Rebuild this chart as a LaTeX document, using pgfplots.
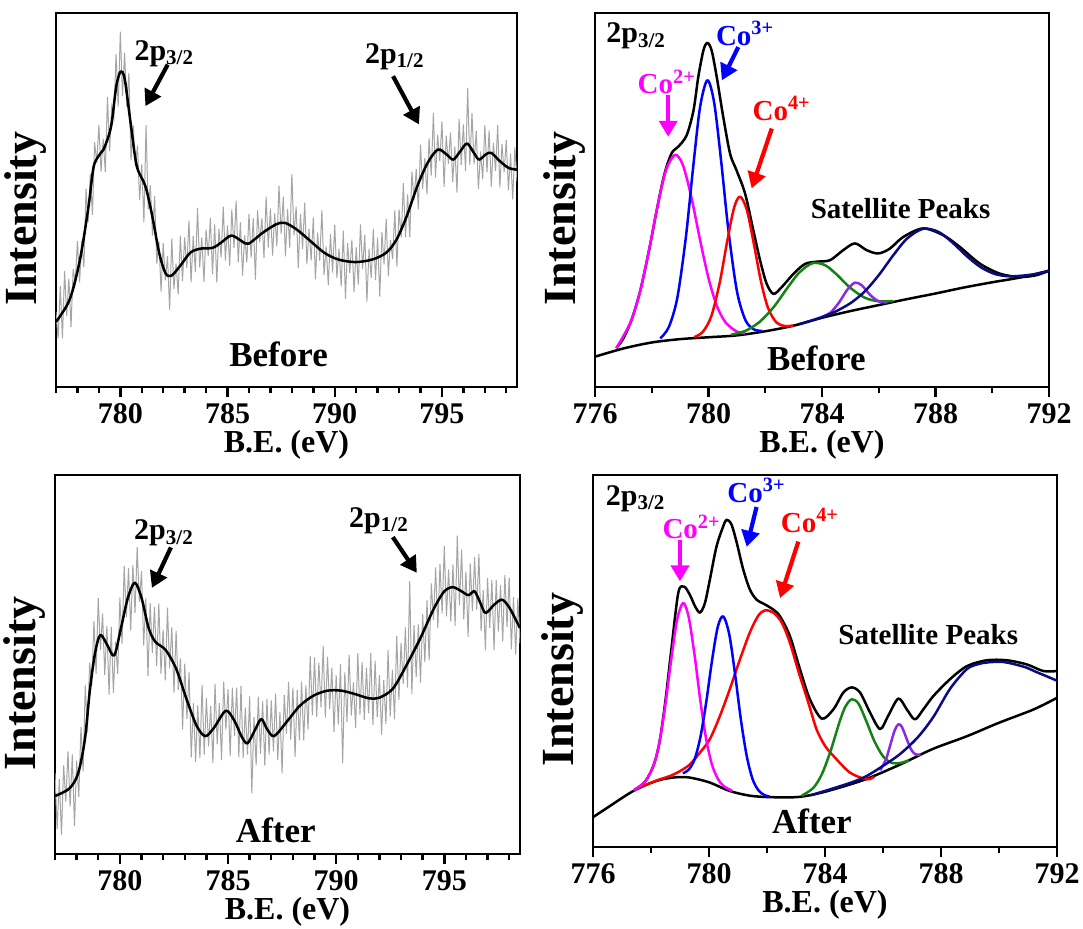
\documentclass[border=0pt]{standalone}
\usepackage{fontspec}
\setmainfont{Liberation Serif}
\usepackage{pgfplots}
\pgfplotsset{compat=1.18}
\usetikzlibrary{arrows.meta}
\definecolor{cmag}{RGB}{255,0,255}
\definecolor{cblue}{RGB}{0,0,255}
\definecolor{cred}{RGB}{255,0,0}
\definecolor{cgreen}{RGB}{20,130,20}
\definecolor{cviol}{RGB}{140,40,230}
\definecolor{cnavy}{RGB}{10,10,130}
\definecolor{cnoise}{RGB}{165,165,165}
\tikzset{
  lab/.style={font=\bfseries\fontsize{15}{16}\selectfont},
  big/.style={font=\bfseries\fontsize{17.5}{19}\selectfont},
  co/.style={font=\bfseries\fontsize{14.5}{16}\selectfont},
  arr/.style={line width=2.1pt, -{Triangle[width=9pt,length=8pt]}},
}
\pgfplotsset{
  xpsbase/.style={
    scale only axis,
    ymin=0, ymax=100,
    ytick=\empty,
    axis line style={line width=1.3pt},
    every tick/.style={black, line width=1.2pt},
    tick align=outside,
    xtick pos=bottom,
    major tick length=5pt,
    minor tick length=3pt,
    /pgf/number format/assume math mode=true,
    /pgf/number format/set thousands separator={},
    xticklabel style={font=\bfseries\fontsize{15}{16}\selectfont, inner sep=0pt, anchor=north},
    xticklabel shift=3pt,
    xlabel={B.E. (eV)},
    ylabel={Intensity},
    every axis x label/.style={at={(axis description cs:0.5,0)}, anchor=base, inner sep=0pt, yshift=-33pt, font=\bfseries\fontsize{16}{18}\selectfont},
    every axis y label/.style={at={([xshift=-15pt]axis description cs:0,0.45)}, anchor=center, rotate=90, font=\bfseries\fontsize{23}{25}\selectfont},
    clip mode=individual,
  },
  curve/.style={line width=1.25pt, smooth, line join=round},
  noise/.style={cnoise, line width=0.5pt},
}
\begin{document}
\begin{tikzpicture}
\useasboundingbox (0,0) rectangle (541.5pt,464pt);
% ---------------- top left ----------------
\begin{axis}[xpsbase, at={(28pt,270.5pt)}, anchor=south west, width=230.5pt, height=187pt,
  xmin=777, xmax=798.5, xtick={780,785,790,795}, minor xtick={777,...,798}]
\addplot[noise] coordinates {(777.0,20)(777.1,13)(777.2,27)(777.3,13)(777.4,31)(777.5,19)(777.6,29)(777.7,16)(777.8,31.5)(777.9,28)
(778.0,39)(778.1,28)(778.2,39)(778.3,32)(778.4,53)(778.5,44)(778.6,57)(778.7,46)(778.8,65.5)(778.9,60)
(779.0,70)(779.1,57.6)(779.2,66.4)(779.3,57.5)(779.4,77.5)(779.5,63)(779.6,75)(779.7,72)(779.8,89)(779.9,75)
(780.0,95)(780.1,77.8)(780.2,89.3)(780.3,75)(780.4,84)(780.5,60.7)(780.6,70)(780.7,59)(780.8,64.5)(780.9,50)
(781.0,59.5)(781.1,44)(781.2,70)(781.3,47.5)(781.4,54)(781.5,40.5)(781.6,51)(781.7,33)(781.8,39)(781.9,25.5)
(782.0,38.5)(782.1,28.5)(782.2,35)(782.3,20.7)(782.4,39.7)(782.5,26.2)(782.6,33)(782.7,24.8)(782.8,40.5)(782.9,28.3)
(783.0,40)(783.1,31.8)(783.2,44.5)(783.3,28)(783.4,40.4)(783.5,30.7)(783.6,47.9)(783.7,32)(783.8,40)(783.9,28.1)
(784.0,42.1)(784.1,35.1)(784.2,45.2)(784.3,30.2)(784.4,43.5)(784.5,27.9)(784.6,42.3)(784.7,34.6)(784.8,48.2)(784.9,33.8)
(785.0,43.2)(785.1,32.4)(785.2,47.5)(785.3,37.2)(785.4,49.8)(785.5,33.4)(785.6,44.1)(785.7,29.8)(785.8,40.5)(785.9,33.3)
(786.0,46.3)(786.1,34.6)(786.2,45.1)(786.3,28.7)(786.4,47.3)(786.5,38.7)(786.6,45.1)(786.7,34.5)(786.8,50.9)(786.9,37.3)
(787.0,47.7)(787.1,35.1)(787.2,46.4)(787.3,37.6)(787.4,53.8)(787.5,40.9)(787.6,50.9)(787.7,34.9)(787.8,47.6)(787.9,37.3)
(788.0,57)(788.1,40.6)(788.2,48.2)(788.3,31.8)(788.4,46.3)(788.5,36.8)(788.6,49.3)(788.7,32.8)(788.8,42.3)(788.9,33.8)
(789.0,45.3)(789.1,28.8)(789.2,41.3)(789.3,33.8)(789.4,47.3)(789.5,29.9)(789.6,37.6)(789.7,27.2)(789.8,40.9)(789.9,30.6)
(790.0,43.4)(790.1,29.2)(790.2,37)(790.3,26.9)(790.4,41.8)(790.5,23.6)(790.6,38.5)(790.7,30.5)(790.8,39.4)(790.9,25.4)
(791.0,37.4)(791.1,27.4)(791.2,43.5)(791.3,31.6)(791.4,40.7)(791.5,22.8)(791.6,37)(791.7,29.1)(791.8,42.3)(791.9,28.6)
(792.0,39.9)(792.1,24.2)(792.2,41.5)(792.3,32.8)(792.4,45)(792.5,29.6)(792.6,39.3)(792.7,34.2)(792.8,47.2)(792.9,32.2)
(793.0,47.5)(793.1,40)(793.2,54.5)(793.3,40)(793.4,51.5)(793.5,40)(793.6,57.6)(793.7,50)(793.8,58.3)(793.9,47.5)
(794.0,64.8)(794.1,53)(794.2,61.2)(794.3,51.5)(794.4,66.5)(794.5,56.5)(794.6,73.3)(794.7,56)(794.8,67.5)(794.9,60.4)
(795.0,71)(795.1,53.5)(795.2,67.2)(795.3,59.7)(795.4,68.1)(795.5,54.8)(795.6,64.3)(795.7,52)(795.8,71.7)(795.9,59.4)
(796.0,70.2)(796.1,57.8)(796.2,80)(796.3,59.3)(796.4,73.2)(796.5,59.5)(796.6,68.5)(796.7,52.9)(796.8,63)(796.9,55.5)
(797.0,70)(797.1,57.4)(797.2,68.6)(797.3,53.6)(797.4,65.3)(797.5,57.7)(797.6,70)(797.7,53.4)(797.8,64.9)(797.9,57.4)
(798.0,66)(798.1,52.6)(798.2,62.4)(798.3,50.2)(798.4,64.1)(798.5,55)};
\addplot[curve, black] coordinates {(777.0,17.4)(777.64,23.4)(778.12,34.1)(778.52,48.4)(778.76,59.0)(779.09,62.6)(779.25,63.9)(779.57,69.7)(779.81,80.4)(780.02,84.4)(780.21,82.2)(780.5,69.7)(780.77,59.0)(781.17,53.7)(781.49,45.7)(781.81,35.9)(782.1,30.5)(782.37,29.7)(782.78,32.3)(783.26,35.9)(783.74,37.0)(784.3,37.2)(784.7,38.6)(785.18,40.5)(785.66,39.0)(785.98,38.3)(786.63,41.2)(787.27,43.5)(787.67,43.9)(788.23,42.1)(788.87,39.0)(789.51,35.9)(790.16,34.1)(790.96,33.4)(791.76,34.1)(792.4,35.9)(792.88,39.4)(793.36,45.7)(793.85,53.7)(794.33,59.9)(794.81,63.5)(795.21,62.2)(795.53,60.8)(795.85,63.0)(796.17,65.1)(796.49,62.6)(796.73,60.8)(797.05,62.2)(797.3,62.6)(797.7,60.4)(798.1,58.6)(798.5,58.1)};
\node[lab] at (axis cs:782.05,89.1) {2p\textsubscript{3/2}};
\draw[arr] (axis cs:782.21,86.2) -- (axis cs:781.17,75.1);
\node[lab] at (axis cs:792.8,88.4) {2p\textsubscript{1/2}};
\draw[arr] (axis cs:792.72,83.1) -- (axis cs:793.93,70.2);
\node[big] at (axis cs:787.38,8.8) {Before};
\end{axis}
% ---------------- top right ----------------
\begin{axis}[xpsbase, at={(297.5pt,270.5pt)}, anchor=south west, width=227pt, height=187pt,
  xmin=776, xmax=792, xtick={776,780,...,792}, minor xtick={778,782,...,790}]
\addplot[curve, black] coordinates {(776,8.1)(777,10.3)(778,11.9)(779,12.8)(780,13.3)(781,13.8)(782,14.9)(783,16.4)(784,18.5)(785,20.3)(786,21.9)(787,23.5)(788,25.0)(789,26.6)(790,28.0)(791,29.3)(792,31.1)};
\addplot[curve, black] coordinates {(776.75,10.4)(777.0,13.0)(777.3,18.2)(777.6,25.9)(777.9,36.4)(778.2,48.2)(778.45,57)(778.7,62.5)(778.94,64.3)(779.23,67.3)(779.47,73.9)(779.64,82.9)(779.82,90.0)(779.96,92.0)(780.11,90.0)(780.29,82.9)(780.52,72.2)(780.76,62.4)(780.99,57.9)(781.29,51.7)(781.58,41.9)(781.82,33.8)(782.05,27.6)(782.29,24.9)(782.58,26.7)(783.0,30.3)(783.4,32.9)(783.81,33.5)(784.28,33.9)(784.75,36.6)(785.16,38.4)(785.57,36.6)(785.98,35.7)(786.39,37.0)(786.86,40.1)(787.56,42.4)(788.27,40.6)(788.85,37.5)(789.56,33.0)(790.27,30.3)(790.97,29.4)(791.56,29.9)(792,31.1)};
\addplot[curve, cmag] coordinates {(776.75,10.4)(777.0,13.6)(777.3,18.2)(777.6,25.9)(777.9,36.4)(778.2,48.2)(778.5,57.9)(778.82,62.1)(779.1,59.3)(779.4,50.6)(779.7,39.4)(780.0,29.1)(780.3,21.6)(780.6,17.3)(781.0,14.8)(781.3,14.4)};
\addplot[curve, cblue] coordinates {(778.3,13.0)(778.6,16.0)(778.9,23.8)(779.2,39.9)(779.45,58.1)(779.7,74.7)(779.96,82.0)(780.2,76.0)(780.45,60.1)(780.7,42.0)(781.0,25.7)(781.3,17.9)(781.6,15.4)(781.9,15.0)};
\addplot[curve, cred] coordinates {(779.5,13.35)(779.8,14.75)(780.1,18.95)(780.4,28.1)(780.65,38.6)(780.9,47.9)(781.11,50.9)(781.35,47.4)(781.6,38.2)(781.85,28.2)(782.1,21.1)(782.4,17.2)(782.7,16.3)(783.0,16.45)};
\addplot[curve, cgreen] coordinates {(780.8,14.0)(781.3,15.0)(781.8,17.4)(782.3,21.4)(782.8,26.7)(783.2,30.6)(783.66,33.1)(784.1,32.6)(784.5,30.2)(785.0,26.5)(785.5,23.9)(786.0,22.9)(786.5,23.0)};
\addplot[curve, cviol] coordinates {(784.0,18.7)(784.3,19.9)(784.6,22.6)(784.9,26.1)(785.16,27.9)(785.4,27.2)(785.7,24.6)(786.0,22.9)(786.3,22.6)};
\addplot[curve, cnavy] coordinates {(783.2,16.8)(783.8,18.2)(784.4,19.9)(785.0,22.4)(785.5,25.5)(786.0,29.9)(786.5,35.1)(787.0,39.7)(787.56,42.3)(788.1,41.5)(788.6,38.6)(789.1,35.0)(789.6,32.0)(790.1,30.2)(790.6,29.6)(791.1,29.8)(791.6,30.3)(792.0,31.1)};
\node[lab, anchor=west] at (axis cs:776.15,93.8) {2p\textsubscript{3/2}};
\node[co, text=cmag] at (axis cs:778.53,81.6) {Co\textsuperscript{2+}};
\draw[arr, cmag] (axis cs:778.58,78.0) -- (axis cs:778.58,66.9);
\node[co, text=cblue] at (axis cs:781.29,94.5) {Co\textsuperscript{3+}};
\draw[arr, cblue] (axis cs:781.05,90.9) -- (axis cs:780.47,82.0);
\node[co, text=cred] at (axis cs:782.58,74.5) {Co\textsuperscript{4+}};
\draw[arr, cred] (axis cs:782.23,69.1) -- (axis cs:781.52,53.1);
\node[co] at (axis cs:786.77,47.7) {Satellite Peaks};
\node[big] at (axis cs:783.8,7.7) {Before};
\end{axis}
% ---------------- bottom left ----------------
\begin{axis}[xpsbase, at={(27.5pt,37pt)}, anchor=south west, width=232.5pt, height=189.5pt,
  xmin=777, xmax=798.5, xtick={780,785,790,795}, minor xtick={777,...,798}]
\addplot[noise] coordinates {(777.0,21.3)(777.1,6.5)(777.2,19.8)(777.3,5.1)(777.4,23.4)(777.5,13.8)(777.6,27.1)(777.7,12.5)(777.8,26.3)(777.9,7.4)
(778.0,24.6)(778.1,15)(778.2,33.5)(778.3,21.8)(778.4,44.5)(778.5,32)(778.6,50.5)(778.7,44.5)(778.8,61.5)(778.9,47.5)
(779.0,67.5)(779.1,53.8)(779.2,63.5)(779.3,47.3)(779.4,60.2)(779.5,42)(779.6,60)(779.7,42.5)(779.8,56)(779.9,47.5)
(780.0,67.7)(780.1,55.5)(780.2,76)(780.3,62.5)(780.4,75.5)(780.5,59)(780.6,76.2)(780.7,63.6)(780.8,81)(780.9,66.5)
(781.0,74.6)(781.1,55)(781.2,67.5)(781.3,47)(781.4,66.2)(781.5,53)(781.6,65.2)(781.7,49.6)(781.8,66.1)(781.9,47.6)
(782.0,59.2)(782.1,45.8)(782.2,65)(782.3,49)(782.4,59.8)(782.5,42.6)(782.6,58.9)(782.7,43.3)(782.8,51.6)(782.9,32.9)
(783.0,50.2)(783.1,35.6)(783.2,48)(783.3,25.5)(783.4,39.8)(783.5,24.3)(783.6,39.2)(783.7,25.3)(783.8,44.6)(783.9,26.2)
(784.0,41.1)(784.1,28.4)(784.2,39.1)(784.3,24)(784.4,44.9)(784.5,28.9)(784.6,39.9)(784.7,24.8)(784.8,45.5)(784.9,32.8)
(785.0,43.5)(785.1,25.8)(785.2,43.9)(785.3,31.1)(785.4,43.9)(785.5,25.5)(785.6,44.3)(785.7,25.3)(785.8,38.6)(785.9,26.2)
(786.0,41.6)(786.1,16)(786.2,36.2)(786.3,23.4)(786.4,41.5)(786.5,26.4)(786.6,40.4)(786.7,23.3)(786.8,41)(786.9,26.2)
(787.0,40.5)(787.1,27.1)(787.2,42.3)(787.3,24.8)(787.4,37.5)(787.5,21.3)(787.6,42)(787.7,31.7)(787.8,45.4)(787.9,30.2)
(788.0,43.9)(788.1,25.6)(788.2,43.3)(788.3,30)(788.4,45.5)(788.5,30)(788.6,44.5)(788.7,32.9)(788.8,52.3)(788.9,36.6)
(789.0,51.9)(789.1,36.2)(789.2,50.5)(789.3,38.7)(789.4,54.9)(789.5,36)(789.6,52.1)(789.7,38.2)(789.8,49.2)(789.9,32.2)
(790.0,47.2)(790.1,34.2)(790.2,50.1)(790.3,24)(790.4,47.9)(790.5,34.8)(790.6,52.6)(790.7,36.5)(790.8,45.3)(790.9,33.2)
(791.0,53)(791.1,36.8)(791.2,50.6)(791.3,35.4)(791.4,49.2)(791.5,37.1)(791.6,53)(791.7,34)(791.8,51)(791.9,36.1)
(792.0,47.2)(792.1,31.5)(792.2,45.9)(792.3,34.3)(792.4,53.8)(792.5,36.3)(792.6,48.6)(792.7,35.5)(792.8,57.5)(792.9,40.6)
(793.0,55.7)(793.1,44.8)(793.2,59.8)(793.3,43.9)(793.4,72)(793.5,42.2)(793.6,60.4)(793.7,46.6)(793.8,60.6)(793.9,45.2)
(794.0,63.3)(794.1,50.6)(794.2,66.9)(794.3,51.1)(794.4,71.4)(794.5,61.7)(794.6,75.6)(794.7,59.6)(794.8,76.5)(794.9,63.4)
(795.0,81.3)(795.1,62.7)(795.2,75.1)(795.3,61.3)(795.4,76.4)(795.5,60.2)(795.6,84)(795.7,65.6)(795.8,80.3)(795.9,61.9)
(796.0,74.5)(796.1,57.3)(796.2,76.6)(796.3,64.1)(796.4,78.3)(796.5,64.5)(796.6,79.1)(796.7,58.8)(796.8,69.6)(796.9,53.7)
(797.0,72.8)(797.1,59.6)(797.2,72.3)(797.3,53.8)(797.4,72.3)(797.5,58.7)(797.6,71)(797.7,56.1)(797.8,73.6)(797.9,59.9)
(798.0,73)(798.1,54)(798.2,67.8)(798.3,52.6)(798.4,67.6)(798.5,55.6)};
\addplot[curve, black] coordinates {(777.0,15.3)(777.67,17.3)(778.07,21.3)(778.38,30.2)(778.62,43.6)(778.86,53.3)(779.1,57.8)(779.42,55.1)(779.74,52.4)(780.05,59.6)(780.37,67.6)(780.69,71.6)(781.0,67.6)(781.33,59.6)(781.64,56.0)(782.12,53.8)(782.6,48.9)(783.08,40.9)(783.55,33.8)(783.95,31.1)(784.35,33.3)(784.9,37.8)(785.3,35.1)(785.62,31.1)(785.9,29.2)(786.26,32.9)(786.54,35.6)(786.81,32.9)(787.13,31.1)(787.69,34.7)(788.32,39.1)(788.96,41.8)(789.6,43.1)(790.23,43.1)(790.87,42.2)(791.5,41.1)(791.98,41.2)(792.62,43.6)(793.25,49.8)(793.89,56.9)(794.53,64.9)(795.0,69.3)(795.4,70.4)(795.8,69.3)(796.12,68.3)(796.4,69.3)(796.67,66.2)(796.91,63.6)(797.31,65.8)(797.67,67.1)(798.02,64.9)(798.5,59.6)};
\node[lab] at (axis cs:782.04,84.7) {2p\textsubscript{3/2}};
\draw[arr] (axis cs:782.36,80.9) -- (axis cs:781.48,70.2);
\node[lab] at (axis cs:791.98,88.0) {2p\textsubscript{1/2}};
\draw[arr] (axis cs:792.62,83.6) -- (axis cs:793.73,74.2);
\node[big] at (axis cs:787.21,6.2) {After};
\end{axis}
% ---------------- bottom right ----------------
\begin{axis}[xpsbase, at={(296.5pt,40.5pt)}, anchor=south west, width=232pt, height=186pt,
  xmin=776, xmax=792, xtick={776,780,...,792}, minor xtick={778,782,...,790}]
\addplot[curve, black] coordinates {(776.0,8.0)(776.6,11.1)(777.4,15.1)(778.2,17.8)(778.8,18.7)(779.3,18.7)(780.0,17.4)(780.7,15.1)(781.4,13.8)(782.1,13.4)(783.0,13.4)(783.6,14.1)(784.3,15.5)(785.4,18.2)(786.6,22.2)(787.7,26.3)(788.9,29.8)(790.0,33.4)(791.2,37.0)(792.0,40.1)};
\addplot[curve, black] coordinates {(777.4,15.2)(777.8,17.6)(778.1,22.2)(778.3,28.5)(778.5,39.5)(778.7,53)(778.94,68.3)(779.14,70.0)(779.34,67.8)(779.52,64.7)(779.69,63.0)(779.86,65.6)(780.03,71.9)(780.26,80.8)(780.49,86.2)(780.61,88.0)(780.78,86.6)(780.96,81.7)(781.18,74.6)(781.41,69.2)(781.64,66.5)(781.93,65.2)(782.22,63.8)(782.45,62.0)(782.79,56.7)(783.14,47.7)(783.48,39.7)(783.89,34.5)(784.29,37.0)(784.63,41.5)(784.92,42.9)(785.21,41.5)(785.55,36.2)(785.9,31.7)(786.18,35.3)(786.53,39.9)(786.82,37.0)(787.1,34.3)(787.39,37.0)(787.74,40.6)(788.31,45.1)(788.89,48.6)(789.58,50.2)(790.26,50.2)(790.95,49.1)(791.53,47.3)(792.0,47.3)};
\addplot[curve, cred] coordinates {(777.5,15.7)(778.2,17.9)(778.66,19.1)(779.0,20.4)(779.34,22.2)(779.69,25.4)(780.03,29.0)(780.38,35.3)(780.72,42.5)(781.07,50.5)(781.41,57.7)(781.70,62.2)(781.93,63.6)(782.22,63.0)(782.51,60.3)(782.79,54.9)(783.1,46.8)(783.43,38.7)(783.71,31.6)(784.0,27.2)(784.29,24.5)(784.86,20.0)(785.44,18.2)(785.7,18.9)};
\addplot[curve, cmag] coordinates {(777.4,15.2)(777.8,17.6)(778.1,22.2)(778.3,28.5)(778.5,38.5)(778.7,50.6)(778.9,61.1)(779.11,65.6)(779.3,61.8)(779.5,51.7)(779.7,39.4)(779.9,29.1)(780.1,22.2)(780.3,18.4)(780.5,16.4)(780.8,15.1)};
\addplot[curve, cblue] coordinates {(779.1,19.8)(779.3,20.8)(779.5,23.5)(779.7,29.4)(779.9,38.7)(780.1,49.9)(780.3,59.1)(780.49,62.0)(780.7,57.1)(780.9,46.4)(781.1,34.2)(781.3,24.5)(781.5,18.3)(781.7,15.3)(781.9,14.0)(782.1,13.5)};
\addplot[curve, cgreen] coordinates {(783.2,13.8)(783.6,15.9)(783.9,19.7)(784.2,26.0)(784.5,33.6)(784.7,37.7)(784.92,39.7)(785.15,38.6)(785.4,34.3)(785.7,28.5)(786.0,24.4)(786.3,22.6)(786.6,22.6)(786.9,23.3)};
\addplot[curve, cviol] coordinates {(785.9,20.6)(786.1,23.5)(786.25,27.4)(786.4,31.3)(786.53,33.0)(786.65,32.3)(786.8,29.4)(786.95,26.5)(787.1,25.0)(787.3,24.8)};
\addplot[curve, cnavy] coordinates {(783.5,13.9)(784.3,15.8)(785.0,17.6)(785.44,19.1)(786.0,21.8)(786.59,25.0)(787.2,29.5)(787.74,35.0)(788.31,42.5)(788.89,47.8)(789.3,49.2)(789.58,49.6)(790.0,49.8)(790.26,49.6)(790.6,49.0)(790.95,48.2)(791.3,47.0)(791.64,45.9)(792.0,44.7)};
\node[lab, anchor=west] at (axis cs:776.2,93.7) {2p\textsubscript{3/2}};
\node[co, text=cmag] at (axis cs:779.4,86.1) {Co\textsuperscript{2+}};
\draw[arr, cmag] (axis cs:779.0,82.6) -- (axis cs:779.0,71.4);
\node[co, text=cblue] at (axis cs:781.64,95.8) {Co\textsuperscript{3+}};
\draw[arr, cblue] (axis cs:781.64,91.4) -- (axis cs:781.3,80.7);
\node[co, text=cred] at (axis cs:783.48,87.8) {Co\textsuperscript{4+}};
\draw[arr, cred] (axis cs:783.08,82.1) -- (axis cs:782.45,66.9);
\node[co] at (axis cs:787.56,57.1) {Satellite Peaks};
\node[big] at (axis cs:783.55,7.0) {After};
\end{axis}
\end{tikzpicture}
\end{document}
